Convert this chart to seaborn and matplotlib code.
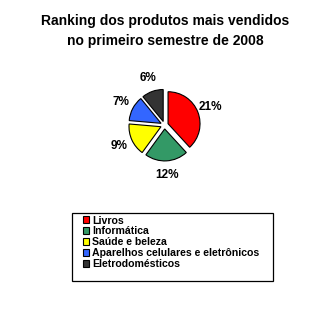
import matplotlib
matplotlib.use("Agg")
import matplotlib.pyplot as plt
from matplotlib.patches import Rectangle
import seaborn as sns

categories = ["Livros", "Informática", "Saúde e beleza",
              "Aparelhos celulares e eletrônicos", "Eletrodomésticos"]
values = [21, 12, 9, 7, 6]
pct_labels = ["21%", "12%", "9%", "7%", "6%"]
colors = ["#FF0000", "#339966", "#FFFF00", "#3366FF", "#333333"]
title = "Ranking dos produtos mais vendidos\nno primeiro semestre de 2008"

sns.set_theme(style="white")
plt.rcParams["font.family"] = ["Liberation Sans", "DejaVu Sans"]
plt.rcParams["text.color"] = "black"

W, H = 336, 312
fig = plt.figure(figsize=(W / 100, H / 100), dpi=100)
fig.patch.set_facecolor("white")

ax = fig.add_axes([0.337, 0.435, 0.305, 0.328])
wedges, texts = ax.pie(values, colors=colors, labels=pct_labels, startangle=90,
                       counterclock=False, explode=[0.12] * len(values),
                       labeldistance=1.43,
                       wedgeprops=dict(edgecolor="black", linewidth=0.8),
                       textprops=dict(fontsize=8.5, fontweight="bold", color="black"))
for t in texts:
    t.set_ha("center")
    t.set_va("center")
ax.set_xlim(-1.6, 1.6)
ax.set_ylim(-1.6, 1.6)
ax.set_aspect("equal")
ax.axis("off")

fig.text(165.5 / W, 1 - 31 / H, title, ha="center", va="center",
         fontsize=10, fontweight="bold", linespacing=1.5, color="black")

# legend frame
fig.patches.append(Rectangle((72 / W, 1 - 281 / H), (273 - 72) / W, (281 - 213) / H,
                             transform=fig.transFigure, facecolor="white",
                             edgecolor="black", linewidth=0.9, zorder=1))

leg = fig.legend(wedges, categories, loc="upper left",
                 bbox_to_anchor=(83 / W, 1 - 215.5 / H), frameon=False,
                 handlelength=0.6, handleheight=0.6, handletextpad=0.25,
                 labelspacing=0.09, borderpad=0, borderaxespad=0,
                 prop=dict(size=7.6, weight="bold"))
leg.set_zorder(2)

fig.savefig("out.png", dpi=100, facecolor="white")
